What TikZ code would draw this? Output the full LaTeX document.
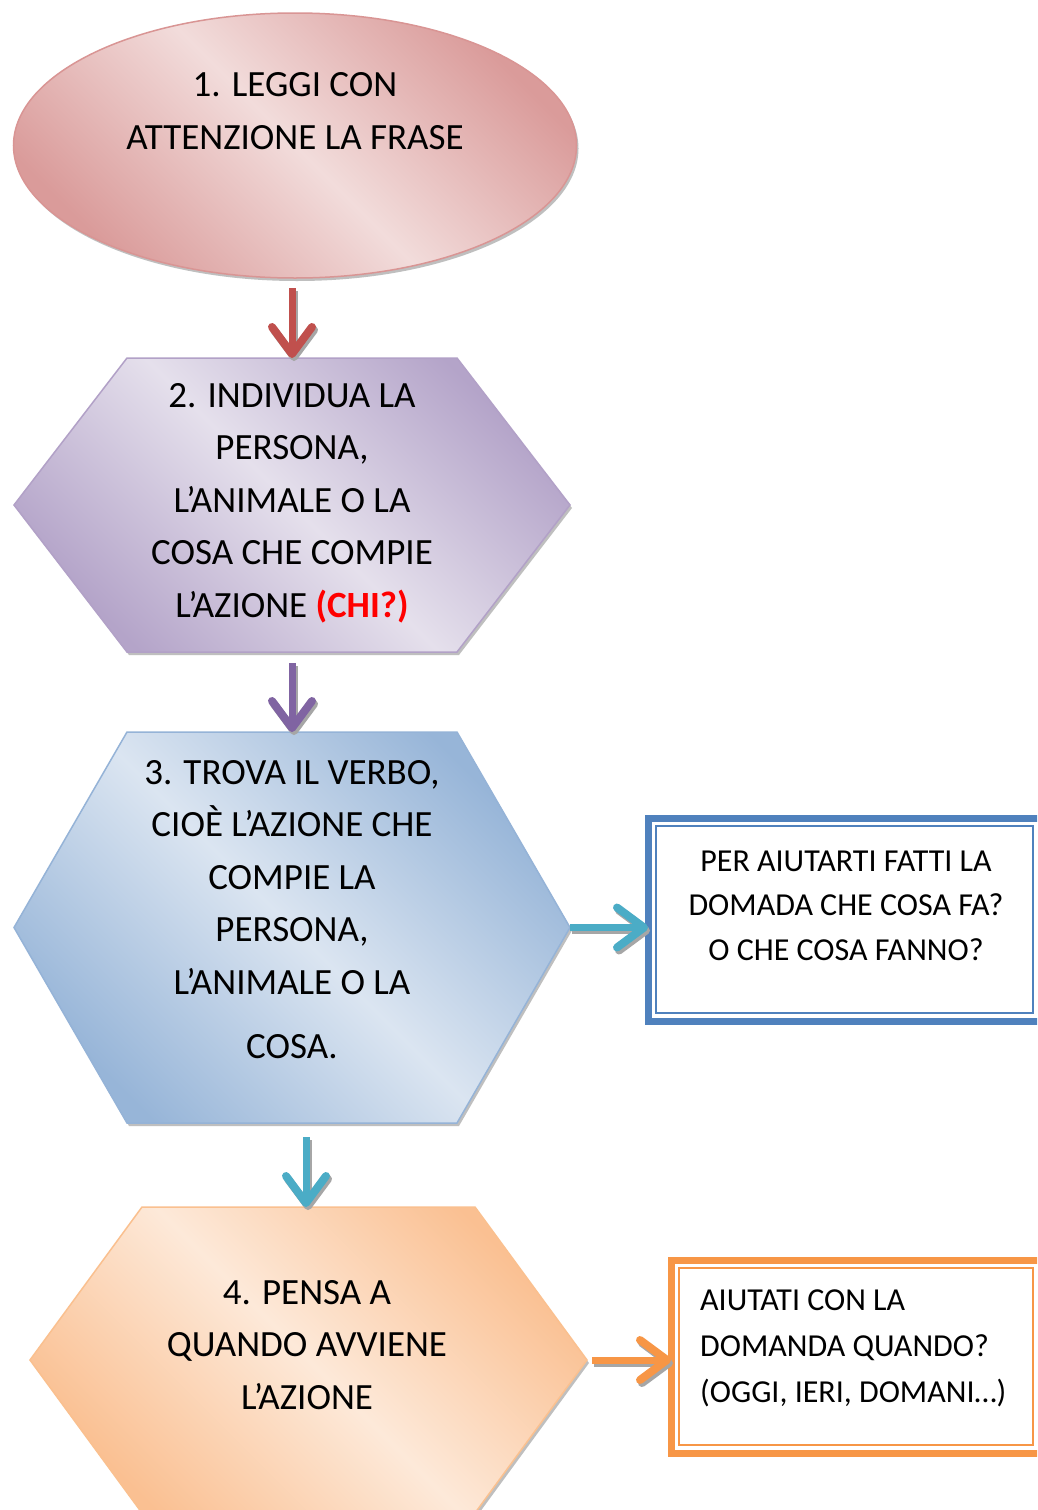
\documentclass[tikz,border=0pt]{standalone}
\usepackage{fontspec}
\setmainfont{Carlito}
\usetikzlibrary{shapes.geometric,arrows.meta,shadows}
\definecolor{ellD}{HTML}{DA9B9A}
\definecolor{ellL}{HTML}{F2DCDB}
\definecolor{ellB}{HTML}{D99594}
\definecolor{purD}{HTML}{B4A4C9}
\definecolor{purL}{HTML}{E5E0EC}
\definecolor{purB}{HTML}{B2A1C7}
\definecolor{bluD}{HTML}{97B5D8}
\definecolor{bluL}{HTML}{DBE5F1}
\definecolor{bluB}{HTML}{95B3D7}
\definecolor{oraD}{HTML}{FAC092}
\definecolor{oraL}{HTML}{FDE9D9}
\definecolor{oraB}{HTML}{FAC08F}
\definecolor{arrRed}{HTML}{C0504D}
\definecolor{arrPur}{HTML}{8064A2}
\definecolor{arrTeal}{HTML}{4BACC6}
\definecolor{arrOra}{HTML}{F79646}
\definecolor{boxBlue}{HTML}{4F81BD}
\definecolor{boxOra}{HTML}{F79646}
\definecolor{chiRed}{HTML}{FF0000}
\newcommand\hexfill[3]{%
  \path[#3] ([xshift=#2]#1.north west) -- ([xshift=-#2]#1.north east) -- (#1.east)
    -- ([xshift=-#2]#1.south east) -- ([xshift=#2]#1.south west) -- (#1.west) -- cycle;}
\tikzset{
  shadowed/.style={drop shadow={shadow xshift=2pt,shadow yshift=-3pt,fill=black!45,opacity=0.55}},
  holder/.style={rectangle,inner sep=0pt,outer sep=0pt},
  grad/.style n args={2}{top color=#1,bottom color=#1,middle color=#2,shading angle=-45},
  shapeline/.style={line width=1.5pt,shadowed},
  maintxt/.style={anchor=base,align=center,inner sep=0pt,font=\fontsize{37}{52.5}\selectfont},
  sidetxt/.style={anchor=base,align=center,inner sep=0pt,font=\fontsize{32}{44.5}\selectfont},
  flowarrow/.style={line width=7pt,-{Straight Barb[length=27pt,width=40pt,line width=8pt,round]}},
  arrshadow/.style={flowarrow,draw=black!35,transform canvas={shift={(2pt,-3pt)}}},
  helpbox/.style={rectangle,inner sep=0pt,outer sep=0pt,line width=7pt,fill=white},
}
\begin{document}
\begin{tikzpicture}[x=1pt,y=-1pt]
\clip (0,0) rectangle (1037,1510);
\fill[white] (0,0) rectangle (1037,1510);
% step 1: ellipse
\node[ellipse,inner sep=0pt,outer sep=0pt,minimum width=563pt,minimum height=265pt,
      draw=ellB,shapeline,grad={ellD}{ellL}] (e1) at (295,145.5) {};
\node[maintxt] (t1) at (295,149) {1. LEGGI CON\\ATTENZIONE LA FRASE};
% step 2
\node[holder,minimum width=556pt,minimum height=294pt] (h2) at (292,505) {};
\hexfill{h2}{113pt}{draw=purB,shapeline,grad={purD}{purL}}
\node[maintxt] (t2) at (292,617) {2. INDIVIDUA LA\\PERSONA,\\L’ANIMALE O LA\\COSA CHE COMPIE\\L’AZIONE {\bfseries\color{chiRed}(CHI?)}};
% step 3
\node[holder,minimum width=556pt,minimum height=391pt] (h3) at (292,927.5) {};
\hexfill{h3}{113pt}{draw=bluB,shapeline,grad={bluD}{bluL}}
\node[maintxt] (t3) at (292,1058) {3. TROVA IL VERBO,\\CIOÈ L’AZIONE CHE\\COMPIE LA\\PERSONA,\\L’ANIMALE O LA\\[11.5pt]COSA.};
% step 4
\node[holder,minimum width=557pt,minimum height=306pt] (h4) at (308.5,1360) {};
\hexfill{h4}{112pt}{draw=oraB,shapeline,grad={oraD}{oraL}}
\node[maintxt] (t4) at (307,1409) {4. PENSA A\\QUANDO AVVIENE\\L’AZIONE};
% help box (blue)
\node[helpbox,draw=boxBlue,minimum width=393pt,minimum height=203pt] (b3) at (844.5,919.5) {};
\draw[boxBlue,line width=2.5pt] ([xshift=8pt,yshift=-8pt]b3.north west) rectangle ([xshift=-8pt,yshift=8pt]b3.south east);
\node[sidetxt] (t5) at (846,960) {PER AIUTARTI FATTI LA\\DOMADA CHE COSA FA?\\O CHE COSA FANNO?};
% help box (orange)
\node[helpbox,draw=boxOra,minimum width=370pt,minimum height=193pt] (b4) at (856,1356.5) {};
\draw[boxOra,line width=2.5pt] ([xshift=8pt,yshift=-8pt]b4.north west) rectangle ([xshift=-8pt,yshift=8pt]b4.south east);
\node[sidetxt,anchor=base west,align=left,font=\fontsize{32}{46}\selectfont] (t6) at (700,1402) {AIUTATI CON LA\\DOMANDA QUANDO?\\(OGGI, IERI,\ DOMANI…)};
% arrows
\draw[arrshadow,shorten <=10pt] (h2.north |- e1.south) -- (h2.north);
\draw[flowarrow,draw=arrRed,shorten <=10pt] (h2.north |- e1.south) -- (h2.north);
\draw[arrshadow,shorten <=11pt] (h3.north |- h2.south) -- (h3.north);
\draw[flowarrow,draw=arrPur,shorten <=11pt] (h3.north |- h2.south) -- (h3.north);
\draw[arrshadow] (h3.east) -- (b3.west |- h3.east);
\draw[flowarrow,draw=arrTeal] (h3.east) -- (b3.west |- h3.east);
\draw[arrshadow,shorten <=14pt] ([xshift=-2.5pt]h4.north |- h3.south) -- ([xshift=-2.5pt]h4.north);
\draw[flowarrow,draw=arrTeal,shorten <=14pt] ([xshift=-2.5pt]h4.north |- h3.south) -- ([xshift=-2.5pt]h4.north);
\draw[arrshadow,shorten <=5pt] (h4.east) -- (b4.west |- h4.east);
\draw[flowarrow,draw=arrOra,shorten <=5pt] (h4.east) -- (b4.west |- h4.east);
\end{tikzpicture}
\end{document}
